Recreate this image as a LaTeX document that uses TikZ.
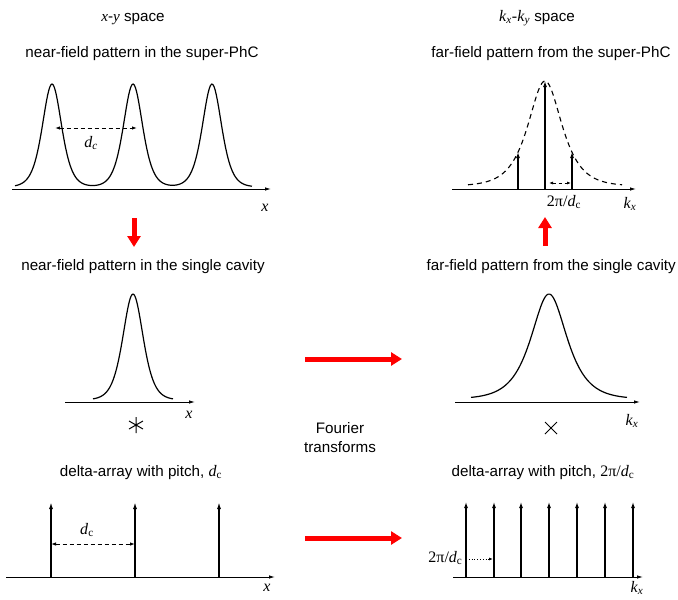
\documentclass[tikz,border=0pt]{standalone}
\usepackage{fontspec}
\setmainfont{Liberation Sans}
\newfontfamily\tms{Liberation Serif}
\usetikzlibrary{arrows.meta,calc}
\tikzset{
  axis/.style={line width=0.9pt,-{Latex[length=6pt,width=3.5pt]}},
  curve/.style={line width=1.2pt},
  dcurve/.style={line width=1.1pt,dash pattern=on 5pt off 4pt},
  delta/.style={line width=1.4pt,-{Latex[length=7pt,width=4pt]}},
  ddelta/.style={line width=1.1pt,-{Latex[length=6pt,width=4pt]}},
  pitch/.style={line width=0.9pt,dash pattern=on 4pt off 3pt,{Latex[length=5pt,width=3.5pt]}-{Latex[length=5pt,width=3.5pt]}},
  redarrow/.style={line width=5pt,red,-{Triangle[length=11pt,width=13pt]}},
  title/.style={font=\fontsize{15.2}{18}\selectfont,anchor=base},
  lab/.style={font=\tms\itshape\fontsize{16}{18}\selectfont},
  labr/.style={font=\tms\fontsize{16}{18}\selectfont},
}
\newcommand{\dcl}{\textit{d}\textsubscript{c}}
\newcommand{\kx}{\textit{k}\textsubscript{\textit{x}}}
\begin{document}
\begin{tikzpicture}[x=1pt,y=-1pt,
  declare function={sq(\u)=(1/cosh(\u))*(1/cosh(\u));}]
\useasboundingbox (0,0) rectangle (678,600);
% titles
\node[title] (t1) at (133,21) {{\tms\itshape x}-{\tms\itshape y} space};
\node[title] (t2) at (142,57) {near-field pattern in the super-PhC};
\node[title] (t3) at (143,270) {near-field pattern in the single cavity};
\node[title] (t4) at (141,476) {delta-array with pitch, {\tms\fontsize{16}{18}\selectfont\dcl}};
\node[title] (t5) at (537,21) {{\tms\fontsize{16}{18}\selectfont\textit{k}\textsubscript{\textit{x}}-\textit{k}\textsubscript{\textit{y}}} space};
\node[title] (t6) at (551,57) {far-field pattern from the super-PhC};
\node[title,anchor=base east,inner sep=0pt] (t7) at (676,270) {far-field pattern from the single cavity};
\node[title] (t8) at (543,476) {delta-array with pitch, {\tms\fontsize{16}{18}\selectfont 2π/\dcl}};
\node[title] (f1) at (340,433) {Fourier};
\node[title] (f2) at (340,452) {transforms};

% ---- top left: super-PhC near field
\coordinate (a1s) at (12,189); \coordinate (a1e) at (271,189);
\draw[axis] (a1s) -- (a1e);
\draw[curve] plot[domain=15:92.5,samples=70] (\x,{187-103*(sq((\x-52)/12.8)+sq((\x-133)/12.8))})
  -- plot[domain=92.5:172.5,samples=70] (\x,{187-103*(sq((\x-52)/12.8)+sq((\x-133)/12.8)+sq((\x-212)/12.8))})
  -- plot[domain=172.5:252,samples=70] (\x,{187-103*(sq((\x-133)/12.8)+sq((\x-212)/12.8))});
\coordinate (p1a) at (55,128); \coordinate (p1b) at (137,128);
\draw[pitch] (p1a) -- (p1b);
\node[lab] (l1) at (91,143) {d\textsubscript{c}};
\node[lab] (x1) at (265,208) {x};

% red down arrow
\coordinate (r1s) at (134,218); \coordinate (r1e) at (134,247);
\draw[redarrow] (r1s) -- (r1e);

% ---- middle left: single cavity
\coordinate (a2s) at (65,402); \coordinate (a2e) at (195,402);
\draw[axis] (a2s) -- (a2e);
\draw[curve] plot[domain=93:173,samples=100] (\x,{400-106*sq((\x-133)/13.5)});
\node[lab] (x2) at (189,415) {x};
\coordinate (ast) at (136,425);
\draw[line width=1pt] ($(ast)+(0,-8)$) -- ($(ast)+(0,8)$)
  ($(ast)+(-7,-4)$) -- ($(ast)+(7,4)$)
  ($(ast)+(-7,4)$) -- ($(ast)+(7,-4)$);

% ---- bottom left: delta array
\coordinate (a3s) at (6,577); \coordinate (a3e) at (275,577);
\draw[axis] (a3s) -- (a3e);
\foreach \i/\xx in {1/51,2/135,3/219}{
  \coordinate (db\i) at (\xx,577); \coordinate (dt\i) at (\xx,502);
  \draw[delta] (db\i) -- (dt\i);
}
\coordinate (p3a) at (51,544); \coordinate (p3b) at (135,544);
\draw[pitch] (p3a) -- (p3b);
\node[labr] (l3) at (87,530) {\textit{d}\textsubscript{c}};
\node[lab] (x3) at (267,588) {x};

% ---- red arrows middle / bottom
\coordinate (r2s) at (305,359); \coordinate (r2e) at (402,359);
\draw[redarrow] (r2s) -- (r2e);
\coordinate (r3s) at (305,538); \coordinate (r3e) at (402,538);
\draw[redarrow] (r3s) -- (r3e);

% ---- top right: super-PhC far field
\coordinate (a4s) at (452,189); \coordinate (a4e) at (636,189);
\draw[axis] (a4s) -- (a4e);
\draw[dcurve] plot[domain=468:622,samples=120] (\x,{186-105/cosh((\x-545)/15)});
\foreach \i/\xx/\yy in {1/518/152,2/545/81,3/572/152}{
  \coordinate (eb\i) at (\xx,189); \coordinate (et\i) at (\xx,\yy);
  \draw[ddelta] (eb\i) -- (et\i);
}
\coordinate (p4a) at (549,183); \coordinate (p4b) at (571,183);
\draw[line width=0.8pt,dash pattern=on 3pt off 3pt,{Latex[length=4pt,width=3pt]}-{Latex[length=4pt,width=3pt]}] (p4a) -- (p4b);
\node[labr] (l4) at (564,202) {2π/\textit{d}\textsubscript{c}};
\node[labr] (k4) at (630,204) {\kx};

% red up arrow
\coordinate (r4s) at (545,246); \coordinate (r4e) at (545,217);
\draw[redarrow] (r4s) -- (r4e);

% ---- middle right: single cavity far field
\coordinate (a5s) at (455,402); \coordinate (a5e) at (640,402);
\draw[axis] (a5s) -- (a5e);
\draw[curve] plot[domain=471:627,samples=120] (\x,{399-105/cosh((\x-549)/16)});
\node[labr] (k5) at (632,421) {\kx};
\coordinate (crs) at (551,428);
\draw[line width=1pt] ($(crs)+(-6,-6)$) -- ($(crs)+(6,6)$)
  ($(crs)+(-6,6)$) -- ($(crs)+(6,-6)$);

% ---- bottom right: delta array
\coordinate (a6s) at (453,577); \coordinate (a6e) at (643,577);
\draw[axis] (a6s) -- (a6e);
\foreach \i/\xx in {1/466,2/494,3/521,4/549,5/577,6/605,7/633}{
  \coordinate (fb\i) at (\xx,577); \coordinate (ft\i) at (\xx,502);
  \draw[ddelta] (fb\i) -- (ft\i);
}
\coordinate (p6a) at (466,559); \coordinate (p6b) at (493,559);
\draw[line width=0.8pt,dotted,-{Latex[length=4pt,width=3pt]}] (p6a) -- (p6b);
\node[labr,anchor=east] (l6) at (466,558) {2π/\textit{d}\textsubscript{c}};
\node[labr] (k6) at (637,588) {\kx};
\end{tikzpicture}
\end{document}
